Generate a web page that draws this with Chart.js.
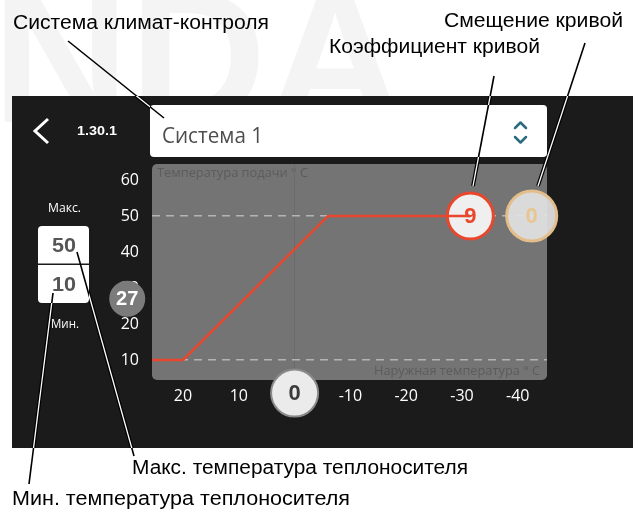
<!DOCTYPE html>
<html>
<head>
<meta charset="utf-8">
<script src="https://cdn.jsdelivr.net/npm/chart.js@4.4.1/dist/chart.umd.min.js"></script>
<style>
  html, body { margin: 0; padding: 0; background: #fff; overflow: hidden; }
  #wrap { width: 637px; height: 515px; position: relative; }
</style>
</head>
<body>
<div id="wrap"><canvas id="curve-chart"></canvas></div>
<script>
// Экран 1.30.1: кривая отопления (наружная температура -> температура подачи)
const xTicks = [20, 10, 0, -10, -20, -30, -40];
const yTicks = [10, 20, 30, 40, 50, 60];
const curveOutdoor = [26, 20, -6, -31.5];
const curveFlow = [10, 10, 50, 50];
const curveSlope = 9;
const curveOffset = 0;
const offsetOutdoor = -42.5;
const outdoorNow = 0;
const flowNow = 27;
const maxFlow = 50;
const minFlow = 10;

const WHITE_BOXES = [[150, 105, 397, 52], [38, 226, 51, 77]];
const PANEL = [12, 96, 621, 352];

function fitText(ctx, str, x, y, width, font, color, align) {
  ctx.save();
  ctx.font = font;
  ctx.fillStyle = color;
  ctx.textBaseline = 'alphabetic';
  ctx.textAlign = 'left';
  const w = ctx.measureText(str).width;
  const tw = width || w;
  let left = x;
  if (align === 'center') left = x - tw / 2;
  else if (align === 'right') left = x - tw;
  ctx.translate(left, y);
  ctx.scale(tw / w, 1);
  ctx.fillText(str, 0, 0);
  ctx.restore();
}

function rrect(ctx, x, y, w, h, r, fill) {
  ctx.beginPath();
  ctx.roundRect(x, y, w, h, r);
  ctx.fillStyle = fill;
  ctx.fill();
}

const screenPlugin = {
  id: 'screen',
  beforeDraw(chart) {
    const ctx = chart.ctx;
    ctx.save();
    ctx.fillStyle = '#fff';
    ctx.fillRect(0, 0, chart.width, chart.height);
    // водяной знак
    ctx.font = 'bold 190px "Liberation Sans", Arial, sans-serif';
    ctx.fillStyle = '#f4f4f4';
    ctx.fillText('NDA', -8, 122);
    // тёмная панель
    ctx.fillStyle = '#1b1b1b';
    ctx.fillRect(...PANEL);
    // заголовок
    rrect(ctx, 150, 105, 397, 52, 4, '#fff');
    fitText(ctx, 'Система 1', 162, 143, 101, '21px "Open Sans", sans-serif', '#4d4d4d');
    ctx.strokeStyle = '#2b6b80';
    ctx.lineWidth = 2.5;
    ctx.lineCap = 'round';
    ctx.lineJoin = 'round';
    ctx.beginPath();
    ctx.moveTo(515, 128); ctx.lineTo(520.5, 122.5); ctx.lineTo(526, 128);
    ctx.moveTo(515, 137); ctx.lineTo(520.5, 142.5); ctx.lineTo(526, 137);
    ctx.stroke();
    // назад
    ctx.strokeStyle = '#fff';
    ctx.lineWidth = 3;
    ctx.lineCap = 'butt';
    ctx.lineJoin = 'miter';
    ctx.beginPath();
    ctx.moveTo(48, 119); ctx.lineTo(35, 131); ctx.lineTo(48, 143);
    ctx.stroke();
    fitText(ctx, '1.30.1', 77, 135, 40, 'bold 13px "Liberation Sans", Arial, sans-serif', '#fff');
    // поле графика
    const a = chart.chartArea;
    rrect(ctx, a.left, a.top, a.right - a.left, a.bottom - a.top, 5, '#747474');
    fitText(ctx, 'Температура подачи ° C', 157, 177, 151, '12px "Open Sans", sans-serif', '#5c5c5c');
    fitText(ctx, 'Наружная температура ° C', 540, 375, 166, '12px "Open Sans", sans-serif', '#5c5c5c', 'right');
    // макс / мин
    rrect(ctx, 38, 226, 51, 77, 4, '#fff');
    ctx.fillStyle = '#1b1b1b';
    ctx.fillRect(38, 263.5, 51, 1.5);
    fitText(ctx, String(maxFlow), 64, 252, 24, 'bold 20px "Liberation Sans", Arial, sans-serif', '#555', 'center');
    fitText(ctx, String(minFlow), 64, 291, 24, 'bold 20px "Liberation Sans", Arial, sans-serif', '#555', 'center');
    fitText(ctx, 'Макс.', 64.5, 212, 33, '12px "Open Sans", sans-serif', '#fff', 'center');
    fitText(ctx, 'Мин.', 65, 328, 28, '12px "Open Sans", sans-serif', '#fff', 'center');
    ctx.restore();
  },
  afterDatasetsDraw(chart) {
    const ctx = chart.ctx;
    ctx.save();
    chart.data.datasets.forEach((ds, i) => {
      if (!ds.markerText) return;
      const p = chart.getDatasetMeta(i).data[0];
      ctx.font = ds.markerFont;
      ctx.fillStyle = ds.markerColor;
      ctx.textAlign = 'center';
      ctx.textBaseline = 'middle';
      ctx.fillText(ds.markerText, p.x, p.y + 1);
    });
    ctx.restore();
  },
  afterDraw(chart) {
    const ctx = chart.ctx;
    const leaders = [
      [[68, 41], [164, 118]],
      [[494, 76], [473, 186]],
      [[585, 43], [538, 186]],
      [[77, 252], [134, 456]],
      [[53, 293], [29, 484]]
    ];
    ctx.save();
    ctx.lineCap = 'butt';
    leaders.forEach(([p, q]) => {
      ctx.strokeStyle = '#000';
      ctx.lineWidth = 1.6;
      ctx.beginPath(); ctx.moveTo(...p); ctx.lineTo(...q); ctx.stroke();
    });
    ctx.beginPath();
    ctx.rect(...PANEL);
    WHITE_BOXES.forEach(b => ctx.rect(...b));
    ctx.clip('evenodd');
    leaders.forEach(([p, q]) => {
      ctx.strokeStyle = '#000';
      ctx.lineWidth = 3.8;
      ctx.beginPath(); ctx.moveTo(...p); ctx.lineTo(...q); ctx.stroke();
      ctx.strokeStyle = '#fff';
      ctx.lineWidth = 1.3;
      ctx.beginPath(); ctx.moveTo(...p); ctx.lineTo(...q); ctx.stroke();
    });
    ctx.restore();

    const f = '20px "Liberation Sans", Arial, sans-serif';
    fitText(ctx, 'Система климат-контроля', 13, 29, 256, f, '#000');
    fitText(ctx, 'Смещение кривой', 444, 27, 179, f, '#000');
    fitText(ctx, 'Коэффициент кривой', 329, 53, 211, f, '#000');
    fitText(ctx, 'Макс. температура теплоносителя', 132, 474, 336, f, '#000');
    fitText(ctx, 'Мин. температура теплоносителя', 12, 505, 338, f, '#000');
  }
};

function marker(x, y, r, fill, border, bw, text, font, color) {
  return {
    data: [{ x: x, y: y }],
    pointRadius: r,
    pointHoverRadius: r,
    pointBackgroundColor: fill,
    pointBorderColor: border,
    pointBorderWidth: bw,
    clip: false,
    markerText: text,
    markerFont: font,
    markerColor: color
  };
}

const curvePoints = curveOutdoor.map((v, i) => ({ x: v, y: curveFlow[i] }));
const lastOutdoor = curveOutdoor[curveOutdoor.length - 1];
const tickFont = { family: 'Open Sans', size: 16 };

new Chart(document.getElementById('curve-chart'), {
  type: 'scatter',
  data: {
    datasets: [
      {
        data: curvePoints,
        showLine: true,
        borderColor: '#e8472d',
        borderWidth: 2.5,
        pointRadius: 0,
        tension: 0
      },
      marker(lastOutdoor, maxFlow, 23, '#efefef', '#e8472d', 3, String(curveSlope), 'bold 22px "Liberation Sans", Arial, sans-serif', '#e8472d'),
      marker(offsetOutdoor, maxFlow, 25, 'rgba(226,226,226,0.93)', '#e3be8a', 3, String(curveOffset), 'bold 22px "Liberation Sans", Arial, sans-serif', '#e9c590'),
      // текущая наружная температура на оси X
      marker(outdoorNow, 0.8, 23.5, '#ebebeb', '#8a8a8a', 2, String(outdoorNow), 'bold 22px "Liberation Sans", Arial, sans-serif', '#3a3a3a'),
      // текущая температура подачи на оси Y (толстая рамка того же цвета, чтобы точка вне поля не отсекалась)
      marker(30, flowNow, 10, '#7b7b7b', '#7b7b7b', 16, String(flowNow), 'bold 20px "Liberation Sans", Arial, sans-serif', '#fff')
    ]
  },
  options: {
    responsive: true,
    maintainAspectRatio: false,
    animation: false,
    events: [],
    layout: { padding: { left: 0, top: 164, right: 90, bottom: 0 }, autoPadding: false },
    plugins: { legend: { display: false }, tooltip: { enabled: false } },
    scales: {
      x: {
        type: 'linear',
        reverse: true,
        min: -45.24,
        max: 25.56,
        afterBuildTicks: s => { s.ticks = xTicks.map(v => ({ value: v })); },
        afterFit: s => { s.height = 135; },
        grid: {
          drawTicks: false,
          lineWidth: 1,
          color: c => (c.tick && c.tick.value === 0 ? '#6b6b6b' : 'transparent')
        },
        border: { display: false },
        ticks: { color: '#fff', font: tickFont, padding: 7, maxRotation: 0, autoSkip: false }
      },
      y: {
        type: 'linear',
        min: 4.44,
        max: 64.44,
        afterBuildTicks: s => { s.ticks = yTicks.map(v => ({ value: v })); },
        afterFit: s => { s.width = 152; },
        grid: {
          drawTicks: false,
          lineWidth: 1.5,
          color: c => (c.tick && (c.tick.value === maxFlow || c.tick.value === minFlow) ? '#b4b4b4' : 'transparent')
        },
        border: { display: false, dash: [8, 6] },
        ticks: { color: '#fff', font: tickFont, padding: 13, autoSkip: false }
      }
    }
  },
  plugins: [screenPlugin]
});
</script>
</body>
</html>
